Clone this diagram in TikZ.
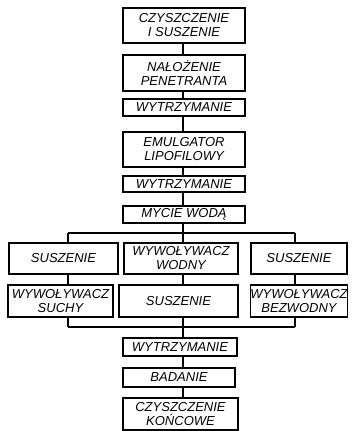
\documentclass[tikz,border=0pt]{standalone}
\usepackage{fontspec}
\setmainfont{Liberation Sans}
\begin{document}
\begin{tikzpicture}[x=1pt,y=-1pt,
  box/.style={draw, line width=1.4pt, inner sep=0pt, align=center,
    font=\fontsize{13}{14}\selectfont\itshape},
  conn/.style={line width=1.4pt}]
\useasboundingbox (0,0) rectangle (356,431);
\newcommand\bx[6]{\node[box, minimum width={#4-#2}, minimum height={#5-#3}] (#1) at ({(#2+#4)/2},{(#3+#5)/2}) {#6};}
\bx{b1}{123}{8}{245}{43}{CZYSZCZENIE\\I SUSZENIE}
\bx{b2}{123}{55}{245}{91}{NAŁOŻENIE\\PENETRANTA}
\bx{b3}{123}{99}{245}{116}{WYTRZYMANIE}
\bx{b4}{123}{132}{245}{167}{EMULGATOR\\LIPOFILOWY}
\bx{b5}{123}{176}{245}{192}{WYTRZYMANIE}
\bx{b6}{123}{206}{245}{223}{MYCIE WODĄ}
\bx{l1}{9}{243}{118}{274}{SUSZENIE}
\bx{m1}{124}{243}{238}{274}{WYWOŁYWACZ\\WODNY}
\bx{r1}{251}{243}{347}{274}{SUSZENIE}
\bx{l2}{8}{285}{113}{317}{WYWOŁYWACZ\\SUCHY}
\bx{m2}{119}{285}{238}{317}{SUSZENIE}
\bx{r2}{251}{285}{347}{317}{WYWOŁYWACZ\\BEZWODNY}
\bx{b7}{123}{338}{237}{356}{WYTRZYMANIE}
\bx{b8}{123}{368}{235}{387}{BADANIE}
\bx{b9}{123}{398}{238}{430}{CZYSZCZENIE\\KOŃCOWE}
\coordinate (cx) at (183,0);
\coordinate (lx) at (68,0);
\coordinate (rx) at (295,0);
\coordinate (top) at (0,233);
\coordinate (bot) at (0,327);
\draw[conn] (b1.south -| cx) -- (b2.north -| cx);
\draw[conn] (b2.south -| cx) -- (b3.north -| cx);
\draw[conn] (b3.south -| cx) -- (b4.north -| cx);
\draw[conn] (b4.south -| cx) -- (b5.north -| cx);
\draw[conn] (b5.south -| cx) -- (b6.north -| cx);
\draw[conn] (b6.south -| cx) -- (top -| cx);
\draw[conn] (top -| lx) -- (top -| rx);
\draw[conn] (top -| lx) -- (l1.north -| lx);
\draw[conn] (top -| cx) -- (m1.north -| cx);
\draw[conn] (top -| rx) -- (r1.north -| rx);
\draw[conn] (l1.south -| lx) -- (l2.north -| lx);
\draw[conn] (m1.south -| cx) -- (m2.north -| cx);
\draw[conn] (r1.south -| rx) -- (r2.north -| rx);
\draw[conn] (l2.south -| lx) -- (bot -| lx);
\draw[conn] (m2.south -| cx) -- (bot -| cx);
\draw[conn] (r2.south -| rx) -- (bot -| rx);
\draw[conn] (bot -| lx) -- (bot -| rx);
\draw[conn] (bot -| cx) -- (b7.north -| cx);
\draw[conn] (b7.south -| cx) -- (b8.north -| cx);
\draw[conn] (b8.south -| cx) -- (b9.north -| cx);
\end{tikzpicture}
\end{document}
